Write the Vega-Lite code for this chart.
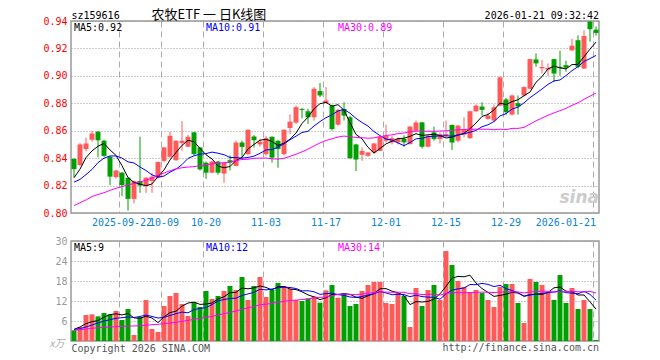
{
"$schema":"https://vega.github.io/schema/vega-lite/v6.json",
"background":"white",
"padding":{"left":42,"top":7,"right":0,"bottom":0},
"bounds":"flush",
"spacing":28,
"resolve":{"scale":{"x":"independent","y":"independent","color":"independent"}},
"config":{"view":{"stroke":"#999999","strokeWidth":1.5},"axis":{"labelFont":"DejaVu Sans Mono","labelFontSize":10,"labelOverlap":false,"labelFlush":false},"axisY":{"labelOverlap":false,"tickCount":20}},
"datasets":{
"leg":[{"d":"2025-09-10","t":"MA5:0.92","k":"MA5"},{"d":"2025-10-20","t":"MA10:0.91","k":"MA10"},{"d":"2025-11-19","t":"MA30:0.89","k":"MA30"}],
"vleg":[{"d":"2025-09-10","t":"MA5:9","k":"MA5"},{"d":"2025-10-20","t":"MA10:12","k":"MA10"},{"d":"2025-11-19","t":"MA30:14","k":"MA30"}],
"k":[
{"d":"2025-09-10","o":0.8395,"h":0.8398,"l":0.826,"c":0.832,"m5":0.8257,"m10":0.8225,"m30":0.8054,"v":3.2,"vm5":3.5,"vm10":3.4,"vm30":3.2},
{"d":"2025-09-11","o":0.835,"h":0.851,"l":0.834,"c":0.85,"m5":0.832,"m10":0.8245,"m30":0.8075,"v":4.2,"vm5":4.2,"vm10":3.7,"vm30":3.4},
{"d":"2025-09-12","o":0.8466,"h":0.855,"l":0.845,"c":0.8507,"m5":0.8404,"m10":0.828,"m30":0.8095,"v":7.8,"vm5":5.2,"vm10":4.2,"vm30":3.6},
{"d":"2025-09-15","o":0.8534,"h":0.86,"l":0.852,"c":0.858,"m5":0.8453,"m10":0.8318,"m30":0.812,"v":8.0,"vm5":5.8,"vm10":4.8,"vm30":3.8},
{"d":"2025-09-16","o":0.8593,"h":0.8596,"l":0.8406,"c":0.853,"m5":0.8487,"m10":0.8367,"m30":0.8135,"v":7.4,"vm5":6.12,"vm10":5.4,"vm30":4.0},
{"d":"2025-09-17","o":0.8527,"h":0.8535,"l":0.841,"c":0.8416,"m5":0.8507,"m10":0.84,"m30":0.8148,"v":8.4,"vm5":7.16,"vm10":6.0,"vm30":4.1},
{"d":"2025-09-18","o":0.841,"h":0.8415,"l":0.8203,"c":0.8265,"m5":0.846,"m10":0.8416,"m30":0.8165,"v":8.0,"vm5":7.92,"vm10":6.4,"vm30":4.2},
{"d":"2025-09-19","o":0.8262,"h":0.8315,"l":0.825,"c":0.831,"m5":0.842,"m10":0.8416,"m30":0.818,"v":9.0,"vm5":8.16,"vm10":6.8,"vm30":4.3},
{"d":"2025-09-22","o":0.8294,"h":0.83,"l":0.8122,"c":0.8203,"m5":0.8345,"m10":0.84,"m30":0.8192,"v":6.3,"vm5":7.82,"vm10":7.0,"vm30":4.4},
{"d":"2025-09-23","o":0.8257,"h":0.826,"l":0.8017,"c":0.8103,"m5":0.8259,"m10":0.8373,"m30":0.8205,"v":9.6,"vm5":8.26,"vm10":7.19,"vm30":4.5},
{"d":"2025-09-24","o":0.8103,"h":0.8236,"l":0.807,"c":0.8233,"m5":0.8223,"m10":0.8365,"m30":0.8215,"v":1.8,"vm5":6.94,"vm10":7.05,"vm30":4.5},
{"d":"2025-09-25","o":0.8233,"h":0.8556,"l":0.8147,"c":0.82,"m5":0.821,"m10":0.8335,"m30":0.8228,"v":7.2,"vm5":6.78,"vm10":7.35,"vm30":4.6},
{"d":"2025-09-26","o":0.8196,"h":0.8265,"l":0.8147,"c":0.8257,"m5":0.8199,"m10":0.831,"m30":0.8238,"v":12.3,"vm5":7.44,"vm10":7.8,"vm30":4.7},
{"d":"2025-09-29","o":0.8233,"h":0.8294,"l":0.8147,"c":0.8265,"m5":0.8212,"m10":0.8278,"m30":0.8255,"v":3.6,"vm5":6.9,"vm10":7.36,"vm30":4.9},
{"d":"2025-09-30","o":0.8257,"h":0.8375,"l":0.825,"c":0.8372,"m5":0.8265,"m10":0.8262,"m30":0.8275,"v":2.7,"vm5":5.52,"vm10":6.89,"vm30":5.0},
{"d":"2025-10-09","o":0.838,"h":0.8482,"l":0.837,"c":0.8478,"m5":0.8314,"m10":0.8269,"m30":0.8292,"v":10.5,"vm5":7.26,"vm10":7.1,"vm30":5.2},
{"d":"2025-10-10","o":0.841,"h":0.8593,"l":0.84,"c":0.8563,"m5":0.8387,"m10":0.8298,"m30":0.8308,"v":13.5,"vm5":8.52,"vm10":7.65,"vm30":5.4},
{"d":"2025-10-13","o":0.8385,"h":0.853,"l":0.838,"c":0.8527,"m5":0.8441,"m10":0.832,"m30":0.8322,"v":14.4,"vm5":8.94,"vm10":8.19,"vm30":5.6},
{"d":"2025-10-14","o":0.851,"h":0.867,"l":0.8453,"c":0.8527,"m5":0.8493,"m10":0.8353,"m30":0.833,"v":11.1,"vm5":10.44,"vm10":8.67,"vm30":5.9},
{"d":"2025-10-15","o":0.8483,"h":0.857,"l":0.848,"c":0.8556,"m5":0.853,"m10":0.8398,"m30":0.8335,"v":7.5,"vm5":11.4,"vm10":8.46,"vm30":6.2},
{"d":"2025-10-16","o":0.8588,"h":0.8592,"l":0.842,"c":0.8429,"m5":0.852,"m10":0.8417,"m30":0.8338,"v":11.7,"vm5":11.64,"vm10":9.45,"vm30":6.5},
{"d":"2025-10-17","o":0.8478,"h":0.848,"l":0.831,"c":0.8318,"m5":0.8471,"m10":0.8429,"m30":0.8345,"v":10.2,"vm5":10.98,"vm10":9.75,"vm30":6.8},
{"d":"2025-10-20","o":0.8367,"h":0.8375,"l":0.825,"c":0.8294,"m5":0.8425,"m10":0.8433,"m30":0.8352,"v":15.0,"vm5":11.1,"vm10":10.02,"vm30":7.1},
{"d":"2025-10-21","o":0.8294,"h":0.838,"l":0.829,"c":0.8375,"m5":0.8394,"m10":0.8444,"m30":0.8358,"v":12.6,"vm5":11.4,"vm10":10.92,"vm30":7.4},
{"d":"2025-10-22","o":0.8375,"h":0.838,"l":0.828,"c":0.8294,"m5":0.8342,"m10":0.8436,"m30":0.8362,"v":13.5,"vm5":12.6,"vm10":12.0,"vm30":7.8},
{"d":"2025-10-23","o":0.8287,"h":0.837,"l":0.822,"c":0.8367,"m5":0.833,"m10":0.8425,"m30":0.8366,"v":15.0,"vm5":13.26,"vm10":12.45,"vm30":8.2},
{"d":"2025-10-24","o":0.8385,"h":0.842,"l":0.831,"c":0.8367,"m5":0.8339,"m10":0.8405,"m30":0.8372,"v":16.5,"vm5":14.52,"vm10":12.75,"vm30":8.6},
{"d":"2025-10-27","o":0.8343,"h":0.8527,"l":0.834,"c":0.8514,"m5":0.8383,"m10":0.8404,"m30":0.8382,"v":15.3,"vm5":14.58,"vm10":12.84,"vm30":9.0},
{"d":"2025-10-28","o":0.8514,"h":0.8527,"l":0.84,"c":0.8482,"m5":0.8405,"m10":0.84,"m30":0.839,"v":19.2,"vm5":15.9,"vm10":13.65,"vm30":9.5},
{"d":"2025-10-29","o":0.8429,"h":0.861,"l":0.842,"c":0.8607,"m5":0.8467,"m10":0.8405,"m30":0.8392,"v":12.3,"vm5":15.66,"vm10":14.13,"vm30":9.93},
{"d":"2025-10-30","o":0.8558,"h":0.8568,"l":0.8477,"c":0.8531,"m5":0.85,"m10":0.8415,"m30":0.8399,"v":16.5,"vm5":15.96,"vm10":14.61,"vm30":10.37},
{"d":"2025-10-31","o":0.85,"h":0.854,"l":0.8483,"c":0.852,"m5":0.8531,"m10":0.8435,"m30":0.84,"v":19.2,"vm5":16.5,"vm10":15.51,"vm30":10.87},
{"d":"2025-11-03","o":0.8429,"h":0.8563,"l":0.8417,"c":0.8546,"m5":0.8537,"m10":0.846,"m30":0.8401,"v":13.2,"vm5":16.08,"vm10":15.33,"vm30":11.05},
{"d":"2025-11-04","o":0.8556,"h":0.8558,"l":0.8367,"c":0.8404,"m5":0.8522,"m10":0.8463,"m30":0.8395,"v":15.3,"vm5":15.3,"vm10":15.6,"vm30":11.29},
{"d":"2025-11-05","o":0.8527,"h":0.853,"l":0.833,"c":0.8466,"m5":0.8493,"m10":0.848,"m30":0.8393,"v":17.4,"vm5":16.32,"vm10":15.99,"vm30":11.63},
{"d":"2025-11-06","o":0.8429,"h":0.861,"l":0.842,"c":0.8607,"m5":0.8509,"m10":0.8504,"m30":0.8399,"v":16.5,"vm5":16.32,"vm10":16.14,"vm30":11.9},
{"d":"2025-11-07","o":0.862,"h":0.872,"l":0.8576,"c":0.8666,"m5":0.8538,"m10":0.8534,"m30":0.8413,"v":15.6,"vm5":15.6,"vm10":16.05,"vm30":12.15},
{"d":"2025-11-10","o":0.8659,"h":0.8784,"l":0.865,"c":0.8772,"m5":0.8583,"m10":0.856,"m30":0.8428,"v":12.3,"vm5":15.42,"vm10":15.75,"vm30":12.26},
{"d":"2025-11-11","o":0.8759,"h":0.8766,"l":0.869,"c":0.8752,"m5":0.8653,"m10":0.8587,"m30":0.8446,"v":12.0,"vm5":14.76,"vm10":15.03,"vm30":12.45},
{"d":"2025-11-12","o":0.8742,"h":0.876,"l":0.8649,"c":0.8698,"m5":0.8699,"m10":0.8596,"m30":0.8466,"v":12.8,"vm5":13.84,"vm10":15.08,"vm30":12.56},
{"d":"2025-11-13","o":0.8698,"h":0.8918,"l":0.8674,"c":0.8906,"m5":0.8759,"m10":0.8634,"m30":0.8489,"v":13.4,"vm5":13.22,"vm10":14.77,"vm30":12.94},
{"d":"2025-11-14","o":0.8889,"h":0.8948,"l":0.8845,"c":0.8857,"m5":0.8797,"m10":0.8667,"m30":0.8511,"v":11.5,"vm5":12.4,"vm10":14.0,"vm30":13.09},
{"d":"2025-11-17","o":0.8803,"h":0.8918,"l":0.8796,"c":0.8821,"m5":0.8807,"m10":0.8695,"m30":0.8529,"v":15.2,"vm5":12.98,"vm10":14.2,"vm30":13.18},
{"d":"2025-11-18","o":0.8784,"h":0.879,"l":0.86,"c":0.8612,"m5":0.8779,"m10":0.8716,"m30":0.8541,"v":16.8,"vm5":13.94,"vm10":14.35,"vm30":13.62},
{"d":"2025-11-19","o":0.8644,"h":0.876,"l":0.8637,"c":0.8752,"m5":0.879,"m10":0.8744,"m30":0.8554,"v":13.0,"vm5":13.98,"vm10":13.91,"vm30":13.97},
{"d":"2025-11-20","o":0.8759,"h":0.8808,"l":0.8674,"c":0.871,"m5":0.875,"m10":0.8755,"m30":0.8561,"v":14.4,"vm5":14.18,"vm10":13.7,"vm30":14.1},
{"d":"2025-11-21","o":0.8698,"h":0.871,"l":0.8395,"c":0.84,"m5":0.8659,"m10":0.8728,"m30":0.8556,"v":10.5,"vm5":13.98,"vm10":13.19,"vm30":14.0},
{"d":"2025-11-24","o":0.85,"h":0.8505,"l":0.8306,"c":0.839,"m5":0.8573,"m10":0.869,"m30":0.8551,"v":11.1,"vm5":13.16,"vm10":13.07,"vm30":13.89},
{"d":"2025-11-25","o":0.8424,"h":0.8478,"l":0.838,"c":0.8453,"m5":0.8541,"m10":0.866,"m30":0.8549,"v":15.0,"vm5":12.8,"vm10":13.37,"vm30":14.02},
{"d":"2025-11-26","o":0.8417,"h":0.8445,"l":0.841,"c":0.8441,"m5":0.8479,"m10":0.8634,"m30":0.8545,"v":16.8,"vm5":13.56,"vm10":13.77,"vm30":14.33},
{"d":"2025-11-27","o":0.8441,"h":0.851,"l":0.843,"c":0.8507,"m5":0.8438,"m10":0.8594,"m30":0.8548,"v":17.7,"vm5":14.22,"vm10":14.2,"vm30":14.53},
{"d":"2025-11-28","o":0.8453,"h":0.856,"l":0.845,"c":0.8558,"m5":0.847,"m10":0.8564,"m30":0.8556,"v":17.7,"vm5":15.66,"vm10":14.82,"vm30":14.78},
{"d":"2025-12-01","o":0.8527,"h":0.8644,"l":0.8515,"c":0.8563,"m5":0.8504,"m10":0.8539,"m30":0.8565,"v":11.4,"vm5":15.72,"vm10":14.44,"vm30":14.66},
{"d":"2025-12-02","o":0.8515,"h":0.856,"l":0.85,"c":0.8546,"m5":0.8523,"m10":0.8532,"m30":0.857,"v":11.1,"vm5":14.94,"vm10":13.87,"vm30":14.61},
{"d":"2025-12-03","o":0.8515,"h":0.855,"l":0.85,"c":0.8541,"m5":0.8543,"m10":0.8511,"m30":0.8579,"v":14.4,"vm5":14.46,"vm10":14.01,"vm30":14.64},
{"d":"2025-12-04","o":0.854,"h":0.8566,"l":0.8483,"c":0.8515,"m5":0.8545,"m10":0.8491,"m30":0.8583,"v":13.5,"vm5":13.62,"vm10":13.92,"vm30":14.59},
{"d":"2025-12-05","o":0.8502,"h":0.8635,"l":0.85,"c":0.863,"m5":0.8559,"m10":0.8514,"m30":0.8592,"v":4.2,"vm5":10.92,"vm10":13.29,"vm30":14.18},
{"d":"2025-12-08","o":0.86,"h":0.8675,"l":0.8595,"c":0.866,"m5":0.8578,"m10":0.8541,"m30":0.8597,"v":15.9,"vm5":11.82,"vm10":13.77,"vm30":14.2},
{"d":"2025-12-09","o":0.8661,"h":0.8665,"l":0.847,"c":0.8483,"m5":0.8566,"m10":0.8544,"m30":0.8597,"v":10.5,"vm5":11.7,"vm10":13.32,"vm30":13.91},
{"d":"2025-12-10","o":0.8483,"h":0.8568,"l":0.848,"c":0.8563,"m5":0.857,"m10":0.8557,"m30":0.8596,"v":15.3,"vm5":11.88,"vm10":13.17,"vm30":14.01},
{"d":"2025-12-11","o":0.8588,"h":0.863,"l":0.8527,"c":0.8539,"m5":0.8575,"m10":0.856,"m30":0.8596,"v":16.8,"vm5":12.54,"vm10":13.08,"vm30":14.02},
{"d":"2025-12-12","o":0.8539,"h":0.8588,"l":0.8507,"c":0.8575,"m5":0.8564,"m10":0.8562,"m30":0.8598,"v":12.3,"vm5":14.16,"vm10":12.54,"vm30":13.79},
{"d":"2025-12-15","o":0.8564,"h":0.8674,"l":0.8555,"c":0.8576,"m5":0.8547,"m10":0.8563,"m30":0.8599,"v":27.0,"vm5":16.38,"vm10":14.1,"vm30":14.25},
{"d":"2025-12-16","o":0.8642,"h":0.8645,"l":0.846,"c":0.8514,"m5":0.8553,"m10":0.856,"m30":0.8602,"v":22.8,"vm5":18.84,"vm10":15.27,"vm30":14.5},
{"d":"2025-12-17","o":0.8527,"h":0.8642,"l":0.8515,"c":0.8637,"m5":0.8568,"m10":0.8569,"m30":0.8608,"v":18.0,"vm5":19.38,"vm10":15.63,"vm30":14.52},
{"d":"2025-12-18","o":0.8571,"h":0.8698,"l":0.8552,"c":0.8605,"m5":0.8581,"m10":0.8578,"m30":0.8608,"v":16.2,"vm5":19.26,"vm10":15.9,"vm30":14.51},
{"d":"2025-12-19","o":0.8546,"h":0.8745,"l":0.854,"c":0.8742,"m5":0.8615,"m10":0.8589,"m30":0.8611,"v":14.7,"vm5":19.74,"vm10":16.95,"vm30":14.48},
{"d":"2025-12-22","o":0.8742,"h":0.8791,"l":0.8735,"c":0.8783,"m5":0.8656,"m10":0.8602,"m30":0.8611,"v":15.3,"vm5":17.4,"vm10":16.89,"vm30":14.58},
{"d":"2025-12-23","o":0.8776,"h":0.8808,"l":0.8711,"c":0.8752,"m5":0.8704,"m10":0.8629,"m30":0.8611,"v":14.4,"vm5":15.72,"vm10":17.28,"vm30":14.66},
{"d":"2025-12-24","o":0.8686,"h":0.8729,"l":0.8681,"c":0.871,"m5":0.8718,"m10":0.8643,"m30":0.8611,"v":12.3,"vm5":14.58,"vm10":16.98,"vm30":14.64},
{"d":"2025-12-25","o":0.8674,"h":0.8791,"l":0.8662,"c":0.8771,"m5":0.8752,"m10":0.8667,"m30":0.8607,"v":10.2,"vm5":13.38,"vm10":16.32,"vm30":14.53},
{"d":"2025-12-26","o":0.8783,"h":0.8996,"l":0.878,"c":0.8989,"m5":0.8801,"m10":0.8708,"m30":0.8611,"v":16.2,"vm5":13.68,"vm10":16.71,"vm30":14.69},
{"d":"2025-12-29","o":0.8828,"h":0.884,"l":0.8716,"c":0.8735,"m5":0.8791,"m10":0.8724,"m30":0.8608,"v":17.1,"vm5":14.04,"vm10":15.72,"vm30":14.75},
{"d":"2025-12-30","o":0.8718,"h":0.8863,"l":0.8711,"c":0.8857,"m5":0.8812,"m10":0.8758,"m30":0.8617,"v":17.1,"vm5":14.58,"vm10":15.15,"vm30":14.76},
{"d":"2025-12-31","o":0.8801,"h":0.8857,"l":0.8718,"c":0.8777,"m5":0.8826,"m10":0.8772,"m30":0.8617,"v":11.4,"vm5":14.4,"vm10":14.49,"vm30":14.71},
{"d":"2026-01-05","o":0.8857,"h":0.8925,"l":0.885,"c":0.8918,"m5":0.8855,"m10":0.8803,"m30":0.8624,"v":5.4,"vm5":13.44,"vm10":13.41,"vm30":14.41},
{"d":"2026-01-06","o":0.8906,"h":0.9125,"l":0.89,"c":0.9122,"m5":0.8882,"m10":0.8841,"m30":0.8648,"v":18.6,"vm5":13.92,"vm10":13.8,"vm30":14.68},
{"d":"2026-01-07","o":0.912,"h":0.9164,"l":0.9066,"c":0.9091,"m5":0.8953,"m10":0.8872,"m30":0.8672,"v":17.7,"vm5":14.04,"vm10":14.04,"vm30":14.9},
{"d":"2026-01-08","o":0.9055,"h":0.9115,"l":0.9019,"c":0.9065,"m5":0.8995,"m10":0.8904,"m30":0.8692,"v":16.8,"vm5":13.98,"vm10":14.28,"vm30":14.96},
{"d":"2026-01-09","o":0.9045,"h":0.909,"l":0.9,"c":0.9058,"m5":0.9051,"m10":0.8938,"m30":0.8713,"v":14.4,"vm5":14.58,"vm10":14.49,"vm30":14.88},
{"d":"2026-01-12","o":0.9122,"h":0.9125,"l":0.8955,"c":0.9017,"m5":0.9071,"m10":0.8963,"m30":0.873,"v":12.3,"vm5":15.96,"vm10":14.7,"vm30":14.7},
{"d":"2026-01-13","o":0.9066,"h":0.9183,"l":0.9,"c":0.9058,"m5":0.9058,"m10":0.897,"m30":0.8746,"v":19.8,"vm5":16.2,"vm10":15.06,"vm30":14.77},
{"d":"2026-01-14","o":0.9078,"h":0.911,"l":0.903,"c":0.9059,"m5":0.9051,"m10":0.9002,"m30":0.8763,"v":11.4,"vm5":14.94,"vm10":14.49,"vm30":14.77},
{"d":"2026-01-15","o":0.9186,"h":0.927,"l":0.918,"c":0.922,"m5":0.9082,"m10":0.9038,"m30":0.8785,"v":15.9,"vm5":14.76,"vm10":14.37,"vm30":14.93},
{"d":"2026-01-16","o":0.926,"h":0.9296,"l":0.9055,"c":0.9066,"m5":0.9084,"m10":0.9067,"m30":0.8803,"v":9.6,"vm5":13.8,"vm10":14.19,"vm30":14.77},
{"d":"2026-01-19","o":0.9054,"h":0.9332,"l":0.905,"c":0.929,"m5":0.9139,"m10":0.9105,"m30":0.8829,"v":12.3,"vm5":13.8,"vm10":14.88,"vm30":14.73},
{"d":"2026-01-20","o":0.9395,"h":0.94,"l":0.925,"c":0.934,"m5":0.9195,"m10":0.9126,"m30":0.8852,"v":9.6,"vm5":11.76,"vm10":13.98,"vm30":14.91},
{"d":"2026-01-21","o":0.9337,"h":0.9361,"l":0.9293,"c":0.9313,"m5":0.9246,"m10":0.9149,"m30":0.8874,"v":0.3,"vm5":9.54,"vm10":12.24,"vm30":14.39}
]},
"vconcat":[
{
"width":528,"height":192,
"data":{"name":"k"},
"title":{"text":"2026-01-21 09:32:42","anchor":"end","frame":"group","font":"DejaVu Sans Mono","fontSize":10,"fontWeight":"normal","color":"#000000","baseline":"alphabetic","offset":-21},
"encoding":{"x":{"field":"d","type":"ordinal","scale":{"type":"band","paddingInner":0,"paddingOuter":0},
"axis":{"values":["2025-09-22","2025-10-09","2025-10-20","2025-11-03","2025-11-17","2025-12-01","2025-12-15","2025-12-29","2026-01-21"],
"labelExpr":"datum.value == '2025-09-22' || datum.value == '2026-01-21' ? datum.value : slice(datum.value, 5)",
"bandPosition":0,"grid":true,"gridDash":[6,4],"gridColor":"#aaaaaa","ticks":false,"domain":false,
"labelColor":"#0a84d6","labelFontSize":10,"labelPadding":4,"labelAngle":0,"labelOverlap":false,"labelFlush":false,"labelBound":false,
"labelAlign":{"condition":{"test":"datum.value === '2026-01-21'","value":"right"},"value":"center"},
"title":"农牧ETF 一 日K线图","titleX":80,"titleY":-195,"titleAlign":"left","titleAnchor":"start","titleBaseline":"alphabetic","titleFont":"Noto Sans CJK SC","titleFontSize":13,"titleFontWeight":"normal","titleColor":"#000000"}}},
"layer":[
{"mark":{"type":"rule","strokeWidth":1},
"encoding":{"y":{"field":"l","type":"quantitative","scale":{"domain":[0.8,0.94],"zero":false,"nice":false},
"axis":{"values":[0.8,0.82,0.84,0.86,0.88,0.9,0.92,0.94],"tickCount":20,"format":".2f","labelColor":"#ff0000","labelPadding":4,"labelOverlap":false,"labelFlush":false,"ticks":false,"domain":false,"grid":true,"gridDash":[1,2],"gridColor":"#999999",
"title":"sz159616","titleAngle":0,"titleX":0,"titleY":-3,"titleAlign":"left","titleBaseline":"alphabetic","titleFont":"DejaVu Sans Mono","titleFontSize":10,"titleFontWeight":"normal","titleColor":"#000000"}},
"y2":{"field":"h"},
"color":{"condition":{"test":"datum.c >= datum.o","value":"#ff5a5a"},"value":"#00a000"}}},
{"mark":{"type":"bar","width":{"band":0.83}},
"encoding":{"y":{"field":"o","type":"quantitative","scale":{"domain":[0.8,0.94],"zero":false,"nice":false},"axis":{"values":[0.8,0.82,0.84,0.86,0.88,0.9,0.92,0.94],"tickCount":20,"labelOverlap":false}},"y2":{"field":"c"},
"color":{"condition":{"test":"datum.c >= datum.o","value":"#ff5a5a"},"value":"#00a000"}}},
{"mark":{"type":"line","color":"#000000","strokeWidth":1},"encoding":{"y":{"field":"m5","type":"quantitative","scale":{"domain":[0.8,0.94],"zero":false,"nice":false},"axis":{"values":[0.8,0.82,0.84,0.86,0.88,0.9,0.92,0.94],"tickCount":20,"labelOverlap":false}}}},
{"mark":{"type":"line","color":"#0000ff","strokeWidth":1},"encoding":{"y":{"field":"m10","type":"quantitative","scale":{"domain":[0.8,0.94],"zero":false,"nice":false},"axis":{"values":[0.8,0.82,0.84,0.86,0.88,0.9,0.92,0.94],"tickCount":20,"labelOverlap":false}}}},
{"mark":{"type":"line","color":"#ff00ff","strokeWidth":1},"encoding":{"y":{"field":"m30","type":"quantitative","scale":{"domain":[0.8,0.94],"zero":false,"nice":false},"axis":{"values":[0.8,0.82,0.84,0.86,0.88,0.9,0.92,0.94],"tickCount":20,"labelOverlap":false}}}},
{"data":{"name":"leg"},"mark":{"type":"text","align":"left","baseline":"top","dy":2,"font":"DejaVu Sans Mono","fontSize":10},
"encoding":{"y":{"datum":0.94},"text":{"field":"t"},"color":{"field":"k","type":"nominal","scale":{"domain":["MA5","MA10","MA30"],"range":["#000000","#0000ff","#ff00ff"]},"legend":null}}},
{"data":{"values":[{"d":"2026-01-21","t":"sina"}]},"mark":{"type":"text","align":"right","baseline":"bottom","dx":3,"dy":-6,"font":"DejaVu Sans","fontSize":17,"fontStyle":"italic","fontWeight":"bold","color":"#cccccc"},
"encoding":{"y":{"datum":0.8},"text":{"field":"t"}}}
]
},
{
"width":528,"height":100,
"data":{"name":"k"},
"title":{"text":"http://finance.sina.com.cn","orient":"bottom","anchor":"end","frame":"group","font":"DejaVu Sans Mono","fontSize":10,"fontWeight":"normal","color":"#555555","baseline":"alphabetic","offset":-2},
"encoding":{"x":{"field":"d","type":"ordinal","scale":{"type":"band","paddingInner":0,"paddingOuter":0},
"axis":{"values":["2025-09-22","2025-10-09","2025-10-20","2025-11-03","2025-11-17","2025-12-01","2025-12-15","2025-12-29","2026-01-21"],
"bandPosition":0,"labels":false,"ticks":false,"domain":false,"grid":true,"gridDash":[6,4],"gridColor":"#aaaaaa",
"title":"Copyright 2026 SINA.COM","titleX":0,"titleY":10,"titleAlign":"left","titleAnchor":"start","titleBaseline":"alphabetic","titleFont":"DejaVu Sans Mono","titleFontSize":10,"titleFontWeight":"normal","titleColor":"#555555"}}},
"layer":[
{"mark":{"type":"bar","width":{"band":0.83}},
"encoding":{"y":{"field":"v","type":"quantitative","scale":{"domain":[0,30],"nice":false},
"axis":{"values":[6,12,18,24,30],"tickCount":20,"labelColor":"#999999","labelPadding":4,"labelOverlap":false,"labelFlush":false,"ticks":false,"domain":false,"grid":true,"gridDash":[1,2],"gridColor":"#999999",
"title":"x万","titleAngle":0,"titleX":-7,"titleY":105,"titleAlign":"right","titleBaseline":"alphabetic","titleFont":"Noto Sans CJK SC","titleFontSize":10,"titleFontStyle":"italic","titleFontWeight":"normal","titleColor":"#aaaaaa"}},
"color":{"condition":{"test":"datum.c >= datum.o","value":"#ff5a5a"},"value":"#00a000"}}},
{"mark":{"type":"line","color":"#000000","strokeWidth":1},"encoding":{"y":{"field":"vm5","type":"quantitative","scale":{"domain":[0,30],"nice":false},"axis":{"values":[6,12,18,24,30],"tickCount":20,"labelOverlap":false}}}},
{"mark":{"type":"line","color":"#0000ff","strokeWidth":1},"encoding":{"y":{"field":"vm10","type":"quantitative","scale":{"domain":[0,30],"nice":false},"axis":{"values":[6,12,18,24,30],"tickCount":20,"labelOverlap":false}}}},
{"mark":{"type":"line","color":"#ff00ff","strokeWidth":1},"encoding":{"y":{"field":"vm30","type":"quantitative","scale":{"domain":[0,30],"nice":false},"axis":{"values":[6,12,18,24,30],"tickCount":20,"labelOverlap":false}}}},
{"data":{"name":"vleg"},"mark":{"type":"text","align":"left","baseline":"top","dy":2,"font":"DejaVu Sans Mono","fontSize":10},
"encoding":{"y":{"datum":30},"text":{"field":"t"},"color":{"field":"k","type":"nominal","scale":{"domain":["MA5","MA10","MA30"],"range":["#000000","#0000ff","#ff00ff"]},"legend":null}}}
]
}
]
}
